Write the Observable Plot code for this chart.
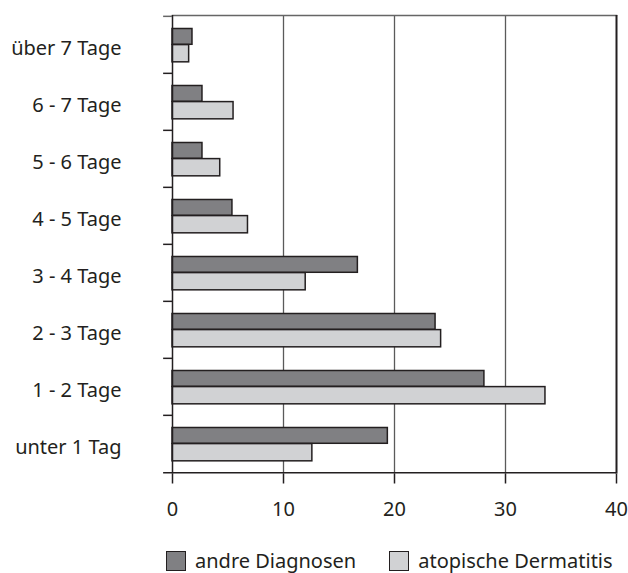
<!DOCTYPE html>
<html>
<head>
<meta charset="utf-8">
<script src="https://cdn.jsdelivr.net/npm/d3@7"></script>
<script src="https://cdn.jsdelivr.net/npm/@observablehq/plot@0.6"></script>
<style>
  html, body { margin: 0; padding: 0; background: #fff; overflow: hidden; }
  body { width: 628px; height: 573px; font-family: "Noto Sans", sans-serif; color: #231f20; }
  #legend { display: flex; align-items: center; margin-top: 10px; margin-left: 166px; font-size: 20px; line-height: 21px; }
  .sw { width: 18px; height: 18px; border: 1.5px solid #231f20; margin-right: 9px; }
  .item { display: flex; align-items: center; }
</style>
</head>
<body>
<div id="chart"></div>
<div id="legend"></div>
<script>
const categories = ["über 7 Tage", "6 - 7 Tage", "5 - 6 Tage", "4 - 5 Tage", "3 - 4 Tage", "2 - 3 Tage", "1 - 2 Tage", "unter 1 Tag"];
const seriesNames = ["andre Diagnosen", "atopische Dermatitis"];
const andreDiagnosen = [1.8, 2.7, 2.7, 5.4, 16.7, 23.7, 28.1, 19.4];
const atopischeDermatitis = [1.5, 5.5, 4.3, 6.8, 12.0, 24.2, 33.6, 12.6];
const xTicks = [0, 10, 20, 30, 40];
const colors = ["#808083", "#d1d2d4"];

const W = 628, H = 540, mT = 15, mB = 66.5, mL = 172, mR = 12;
const bw = (H - mT - mB) / categories.length;

const rowsA = categories.map((c, i) => ({cat: c, v: andreDiagnosen[i]}));
const rowsB = categories.map((c, i) => ({cat: c, v: atopischeDermatitis[i]}));
const ink = "#231f20";

const plot = Plot.plot({
  width: W, height: H,
  marginTop: mT, marginBottom: mB, marginLeft: mL, marginRight: mR,
  style: {fontFamily: "Noto Sans, sans-serif", fontSize: "20px", color: ink, background: "#fff"},
  x: {domain: [0, 40], ticks: xTicks, label: null},
  y: {domain: categories, padding: 0, label: null},
  marks: [
    Plot.ruleX([10, 20, 30], {stroke: "#5a5a5a", strokeWidth: 1.3}),
    Plot.frame({anchor: "top", stroke: "#666", strokeWidth: 1.5}),
    Plot.barX(rowsA, {y: "cat", x: "v", fill: colors[0], stroke: ink, strokeWidth: 1.5, insetTop: bw * 0.218, insetBottom: bw * 0.501}),
    Plot.barX(rowsB, {y: "cat", x: "v", fill: colors[1], stroke: ink, strokeWidth: 1.5, insetTop: bw * 0.499, insetBottom: bw * 0.195}),
    Plot.ruleX([40], {stroke: ink, strokeWidth: 2}),
    Plot.ruleX([0], {stroke: ink, strokeWidth: 1.5}),
    Plot.ruleY(categories, {y: d => d, x1: -0.8, x2: 0, dy: -bw / 2, stroke: d => d === categories[0] ? "#666" : ink, strokeWidth: 1.5}),
    Plot.ruleY([categories[categories.length - 1]], {y: d => d, x1: -0.8, x2: 40, dy: bw / 2, stroke: ink, strokeWidth: 1.5}),
    Plot.axisX({anchor: "bottom", ticks: xTicks, tickSize: 10, tickPadding: 18, stroke: ink, strokeWidth: 1.5, fill: ink, label: null, fontSize: 20}),
    Plot.axisY({anchor: "left", tickSize: 0, tickPadding: 51, dy: 4, fill: ink, label: null, fontSize: 20})
  ]
});
document.getElementById("chart").appendChild(plot);

const legend = document.getElementById("legend");
seriesNames.forEach((name, i) => {
  const item = document.createElement("div");
  item.className = "item";
  if (i > 0) item.style.marginLeft = "33px";
  const sw = document.createElement("div");
  sw.className = "sw";
  sw.style.background = colors[i];
  const t = document.createElement("span");
  t.textContent = name;
  item.appendChild(sw);
  item.appendChild(t);
  legend.appendChild(item);
});
</script>
</body>
</html>
